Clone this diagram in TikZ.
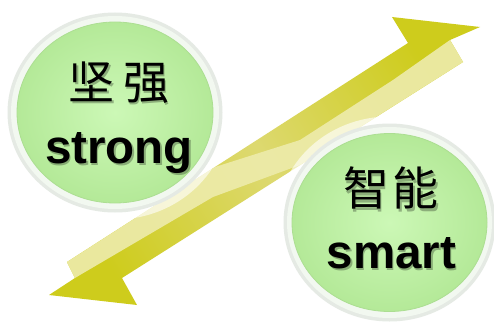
\documentclass[tikz,border=0pt]{standalone}
\usepackage{fontspec}
\setmainfont{Liberation Sans}
\newfontfamily\cjk{Noto Sans CJK SC}
\definecolor{ArrowDark}{RGB}{206,204,28}
\definecolor{ArrowMid}{RGB}{221,217,112}
\definecolor{ArrowLight}{RGB}{237,235,170}
\definecolor{HaloOut}{RGB}{229,234,228}
\definecolor{HaloIn}{RGB}{242,248,240}
\definecolor{GreenIn}{RGB}{204,248,182}
\definecolor{GreenOut}{RGB}{180,233,152}
\definecolor{GreenRim}{RGB}{172,222,146}
\begin{document}
\begin{tikzpicture}[x=1pt,y=-1pt,
  cjktext/.style={font=\cjk\fontsize{46}{46}\selectfont, inner sep=0pt, text=black},
  entext/.style={font=\bfseries\fontsize{47.5}{47.5}\selectfont, inner sep=0pt, anchor=base, text=black},
  shadowtext/.style={text=black, opacity=0.28},
  glow/.style={fill=white, opacity=0.6},
  haloout/.style={fill=HaloOut},
  haloin/.style={fill=HaloIn},
  greendisk/.style={inner color=GreenIn, outer color=GreenOut, draw=GreenRim, line width=0.8pt}]
\useasboundingbox[fill=white] (0,0) rectangle (494,321);

% double arrow (ribbon)
\shade[left color=ArrowDark, right color=ArrowDark, middle color=ArrowMid, shading angle=122]
  (480,27) -- (392,17) -- (408,43) -- (67,262) -- (75,278) -- (49,295) -- (137,305)
  -- (122,278) -- (463,62) -- (450,40) -- cycle;
\fill[ArrowLight, opacity=0.92]
  (67,262) -- (215,167) -- (300,140) -- (393,80) -- (450,40) -- (463,62)
  -- (300,165) -- (213,197) -- (80,275) -- (75,278) -- cycle;

% left circle
\fill[glow] (115,112.5) ellipse [x radius=114pt, y radius=107pt];
\fill[haloout] (115,112.5) ellipse [x radius=107.5pt, y radius=100pt];
\fill[haloin] (115,112.5) ellipse [x radius=104pt, y radius=96.5pt];
\shade[greendisk] (115,112.5) ellipse [x radius=98pt, y radius=90.5pt];

% right circle
\fill[glow] (389.5,222.5) ellipse [x radius=113pt, y radius=106pt];
\fill[haloout] (389.5,222.5) ellipse [x radius=106pt, y radius=99pt];
\fill[haloin] (389.5,222.5) ellipse [x radius=102.5pt, y radius=95.5pt];
\shade[greendisk] (389.5,222.5) ellipse [x radius=97.5pt, y radius=89pt];

% text shadows
\node[cjktext, shadowtext] (s1) at (120.5,85) {坚\hspace{9pt}强};
\node[entext, shadowtext] (s2) at (120.5,165.5) {strong};
\node[cjktext, shadowtext] (s3) at (392.5,190.5) {智\hspace{4pt}能};
\node[entext, shadowtext] (s4) at (393,270.5) {smart};
% texts
\node[cjktext] (t1) at (119,83) {坚\hspace{9pt}强};
\node[entext] (t2) at (119,163) {strong};
\node[cjktext] (t3) at (391,188) {智\hspace{4pt}能};
\node[entext] (t4) at (391.5,268) {smart};
\end{tikzpicture}
\end{document}
